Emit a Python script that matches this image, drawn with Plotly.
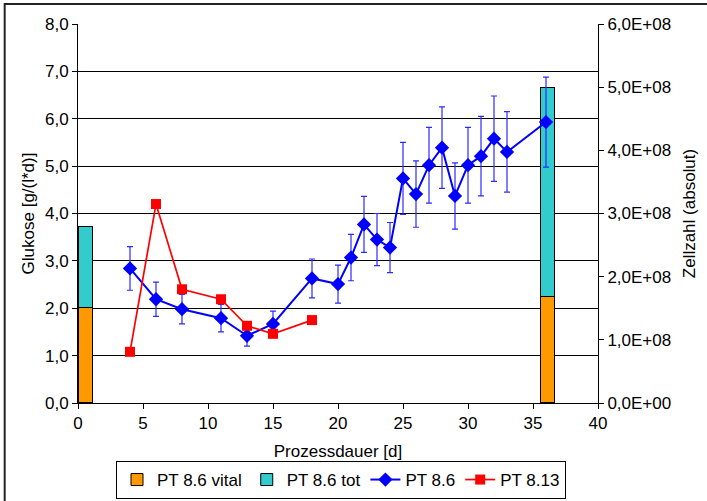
import plotly.graph_objects as go

# Glucose consumption, PT 8.6 (mean and standard deviation)
days_pt86 = [4, 6, 8, 11, 13, 15, 18, 20, 21, 22, 23, 24, 25, 26, 27, 28, 29, 30, 31, 32, 33, 36]
glc_pt86 = [2.84, 2.19, 1.98, 1.79, 1.42, 1.67, 2.63, 2.51, 3.07, 3.77, 3.45, 3.28,
            4.74, 4.41, 5.02, 5.39, 4.37, 5.02, 5.21, 5.58, 5.30, 5.93]
err_pt86 = [0.46, 0.36, 0.31, 0.29, 0.22, 0.27, 0.41, 0.40, 0.49, 0.59, 0.55, 0.53,
            0.76, 0.70, 0.80, 0.86, 0.70, 0.80, 0.84, 0.90, 0.85, 0.95]

# Glucose consumption, PT 8.13
days_pt813 = [4, 6, 8, 11, 13, 15, 18]
glc_pt813 = [1.08, 4.20, 2.40, 2.19, 1.63, 1.46, 1.75]

# Cell counts (absolute) at start and end of the process
bar_days = [0.6, 36.15]
cells_vital = [1.50e8, 1.68e8]
cells_dead = [1.29e8, 3.31e8]

# Axis ticks
glc_ticks = [0, 1, 2, 3, 4, 5, 6, 7, 8]
cell_ticks = [0, 1e8, 2e8, 3e8, 4e8, 5e8, 6e8]
cell_tick_labels = ["0,0E+00", "1,0E+08", "2,0E+08", "3,0E+08", "4,0E+08", "5,0E+08", "6,0E+08"]
day_ticks = [0, 5, 10, 15, 20, 25, 30, 35, 40]

FONT = "Liberation Sans, Arial, sans-serif"
fs = 17

fig = go.Figure()

fig.add_trace(go.Bar(
    x=bar_days, y=cells_vital, name="PT 8.6 vital", yaxis="y",
    width=1.12, marker=dict(color="#FF9900", line=dict(color="black", width=1)),
))
fig.add_trace(go.Bar(
    x=bar_days, y=cells_dead, name="PT 8.6 tot", yaxis="y",
    width=1.12, marker=dict(color="#33CCCC", line=dict(color="black", width=1)),
))
fig.add_trace(go.Scatter(
    x=days_pt86, y=glc_pt86, name="PT 8.6", yaxis="y2", mode="lines+markers",
    line=dict(color="#0000FF", width=2),
    marker=dict(symbol="diamond", size=11, color="#0000FF"),
    error_y=dict(type="data", array=err_pt86, visible=True, color="#2B2BFF",
                 thickness=1.2, width=3),
))
fig.add_trace(go.Scatter(
    x=days_pt813, y=glc_pt813, name="PT 8.13", yaxis="y2", mode="lines+markers",
    line=dict(color="#FF0000", width=1.7),
    marker=dict(symbol="square", size=10, color="#FF0000"),
))

fig.update_layout(
    width=707, height=501,
    margin=dict(l=78, r=109, t=24, b=98, autoexpand=False),
    paper_bgcolor="white", plot_bgcolor="white",
    separators=",.",
    barmode="stack",
    bargap=0,
    font=dict(family=FONT, size=fs, color="black"),
    hovermode=False,
    xaxis=dict(
        range=[0, 40], tickvals=day_ticks, ticks="outside", ticklen=5,
        tickcolor="black", showline=True, linecolor="black", linewidth=1,
        showgrid=False, zeroline=False, automargin=True,
        title=dict(text="Prozessdauer [d]", font=dict(size=fs), standoff=15),
        tickfont=dict(size=fs),
    ),
    yaxis=dict(
        side="right", range=[0, 6e8], tickvals=cell_ticks, ticktext=cell_tick_labels,
        ticks="outside", ticklen=5, tickcolor="black", showline=True,
        linecolor="black", linewidth=1, showgrid=False, zeroline=False,
        automargin=True,
        title=dict(text="Zellzahl (absolut)", font=dict(size=fs), standoff=12),
        tickfont=dict(size=fs),
    ),
    yaxis2=dict(
        overlaying="y", side="left", range=[0, 8], tickvals=glc_ticks,
        tickformat=".1f", ticks="outside", ticklen=5, tickcolor="black",
        showline=True, linecolor="black", linewidth=1, automargin=True,
        showgrid=True, gridcolor="black", gridwidth=1, zeroline=False,
        title=dict(text="Glukose [g/(l*d)]", font=dict(size=fs), standoff=6),
        tickfont=dict(size=fs),
    ),
    legend=dict(
        orientation="h", xref="container", yref="container",
        x=116 / 707, y=2 / 501, xanchor="left", yanchor="bottom",
        bordercolor="black", borderwidth=1, bgcolor="white",
        font=dict(size=fs), traceorder="normal",
    ),
    shapes=[
        dict(type="rect", xref="paper", yref="paper",
             x0=-0.141, x1=1.25, y0=-0.32, y1=1.0528,
             line=dict(color="#222222", width=2), fillcolor="rgba(0,0,0,0)",
             layer="below"),
    ],
)

fig.write_html("out.html")
